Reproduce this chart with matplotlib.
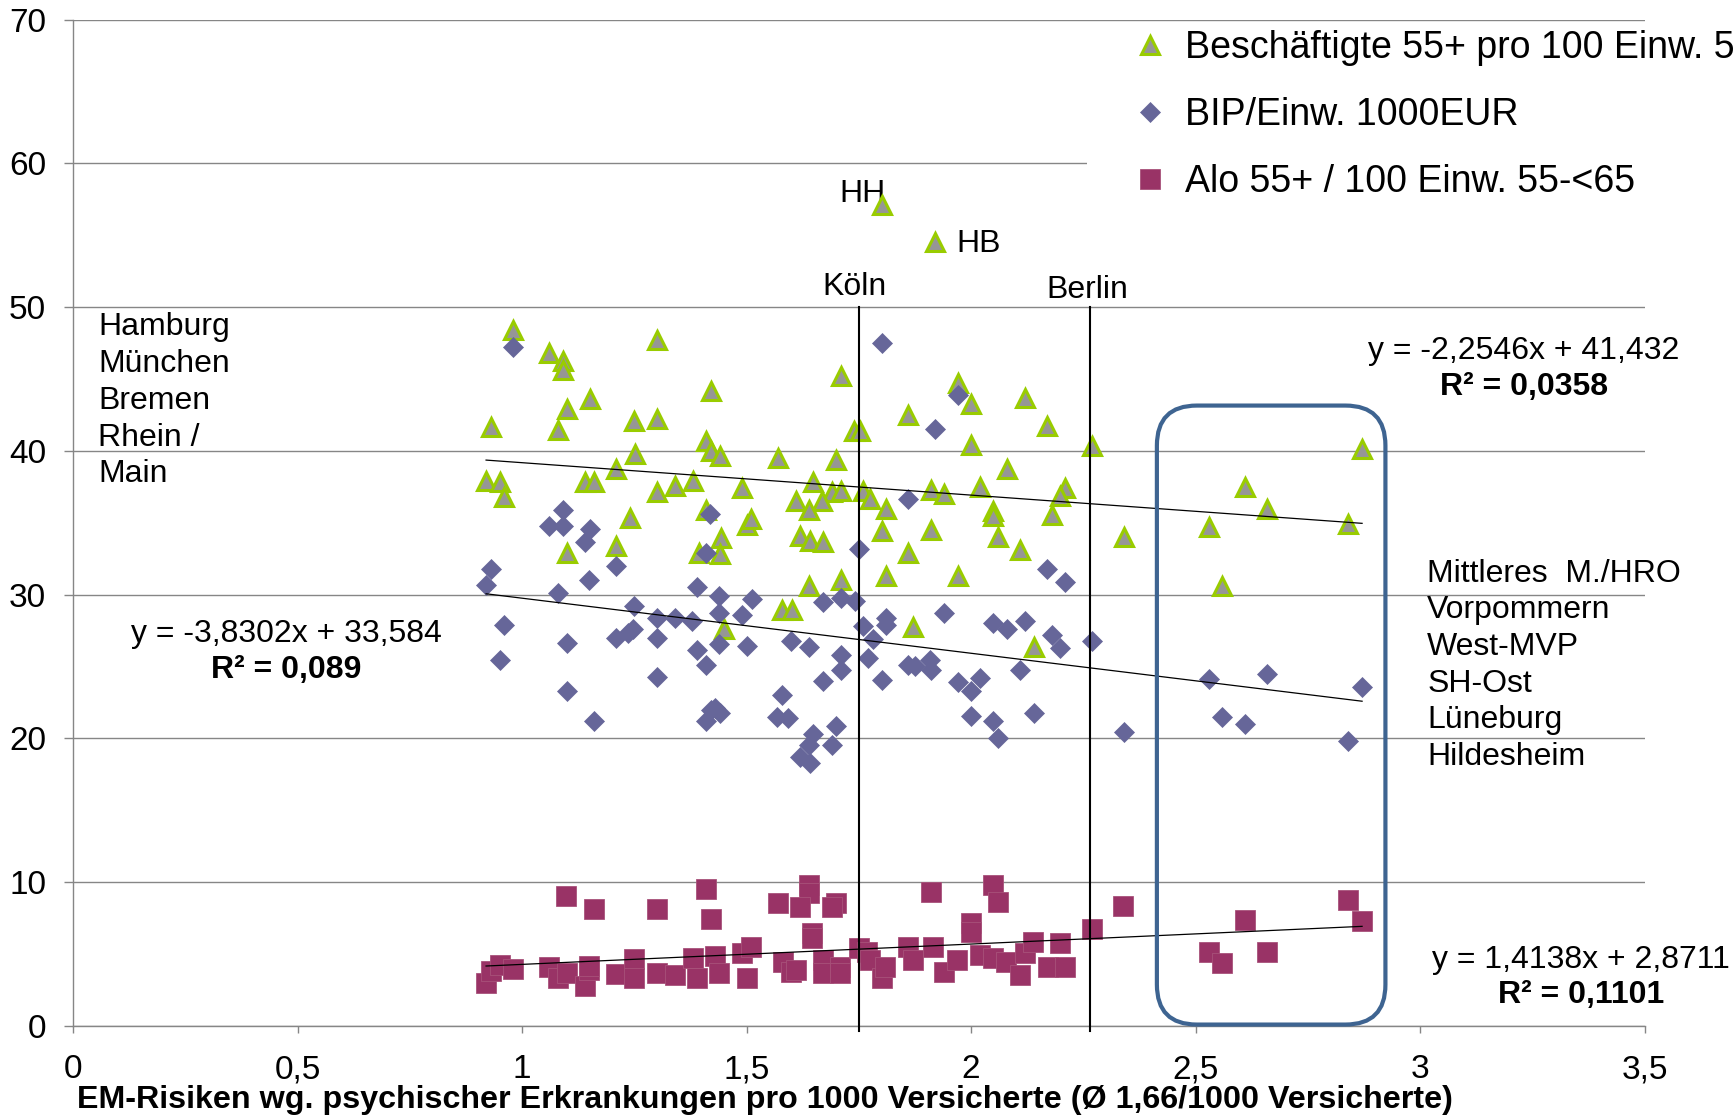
import numpy as np
import matplotlib.pyplot as plt
from matplotlib.patches import FancyBboxPatch, Rectangle
from matplotlib.lines import Line2D
from matplotlib import font_manager

plt.rcParams['font.family'] = ['Liberation Sans', 'DejaVu Sans']

# Beschäftigte 55+ pro 100 Einw. 55-<65 (triangles)
besch_x = [0.981, 1.060, 1.091, 1.091, 1.301, 1.420, 1.151, 1.100, 0.930, 1.081,
           1.250, 1.301, 1.410, 1.420, 1.440, 1.251, 1.570, 1.210, 0.920, 0.951,
           0.961, 1.140, 1.160, 1.301, 1.340, 1.380, 1.491, 1.241, 1.409, 1.500,
           1.511, 1.210, 1.100, 1.395, 1.443, 1.440, 1.451, 1.580, 1.602,
           1.710, 1.970, 1.999, 2.120, 1.860, 2.170, 1.739, 1.753, 1.999, 2.269,
           1.699, 2.080, 1.649, 1.690, 1.710, 1.760, 1.610, 1.669, 1.775, 1.640,
           1.811, 1.910, 1.940, 2.020, 2.050, 2.050, 2.209, 2.199, 2.180, 1.801,
           1.910, 2.061, 1.619, 1.641, 1.671, 1.860, 2.109, 1.811, 1.970, 1.640,
           1.710, 1.870, 2.140,
           1.801, 1.920,
           2.340, 2.529, 2.560, 2.610, 2.659, 2.840, 2.871]
besch_y = [48.39, 46.81, 46.23, 45.65, 47.69, 44.14, 43.61, 42.94, 41.66, 41.43,
           42.08, 42.22, 40.71, 39.97, 39.67, 39.81, 39.48, 38.74, 37.90, 37.81,
           36.79, 37.81, 37.86, 37.11, 37.53, 37.88, 37.42, 35.33, 35.91, 34.86,
           35.26, 33.36, 32.89, 32.90, 33.95, 32.80, 27.60, 28.90, 28.95,
           45.19, 44.72, 43.28, 43.68, 42.52, 41.71, 41.36, 41.40, 40.43, 40.31,
           39.39, 38.74, 37.81, 37.11, 37.18, 37.18, 36.49, 36.49, 36.65, 35.91,
           35.96, 37.30, 37.02, 37.49, 35.79, 35.44, 37.42, 36.84, 35.56, 34.40,
           34.52, 34.00, 34.05, 33.70, 33.63, 32.90, 33.12, 31.32, 31.32, 30.57,
           30.99, 27.74, 26.35,
           57.13, 54.51,
           33.99, 34.67, 30.57, 37.50, 35.94, 34.89, 40.10]

# BIP/Einw. 1000EUR (diamonds)
bip_x = [0.981, 1.091, 1.060, 1.091, 1.151, 1.140, 1.419, 1.410,
         0.930, 0.920, 1.210, 1.150, 1.080, 1.390, 1.439, 1.512, 1.250, 0.961,
         1.300, 1.340, 1.379, 1.439, 1.491, 1.247, 1.237, 1.100, 1.209, 1.300,
         1.390, 1.439, 1.500, 1.410, 0.951, 1.300, 1.100, 1.420, 1.430, 1.440,
         1.410, 1.160, 1.580, 1.568, 1.592, 1.600,
         1.751, 2.170, 2.209, 1.671, 1.710, 1.742, 1.940, 1.811, 1.811, 1.760,
         2.050, 2.080, 2.120, 2.180, 2.198, 2.269, 1.781, 1.640, 1.710, 1.771,
         1.710, 1.860, 1.875, 1.909, 1.910, 2.109, 1.671, 1.801, 1.970, 2.020,
         1.999, 1.699, 1.649, 1.640, 1.690, 1.619, 1.641, 1.999, 2.050, 2.061,
         2.140,
         1.801, 1.970, 1.920, 1.860,
         2.340, 2.529, 2.560, 2.610, 2.659, 2.840, 2.871]
bip_y = [47.23, 35.86, 34.79, 34.79, 34.56, 33.63, 35.61, 32.90,
         31.78, 30.69, 32.01, 30.99, 30.11, 30.50, 29.92, 29.69, 29.23, 27.91,
         28.37, 28.37, 28.18, 28.72, 28.60, 27.60, 27.30, 26.67, 26.98, 26.98,
         26.12, 26.58, 26.44, 25.12, 25.47, 24.27, 23.27, 22.00, 22.10, 21.80,
         21.18, 21.18, 23.05, 21.50, 21.40, 26.75,
         33.17, 31.78, 30.90, 29.48, 29.76, 29.58, 28.72, 28.37, 27.90, 27.84,
         28.02, 27.60, 28.20, 27.21, 26.28, 26.75, 26.91, 26.35, 25.82, 25.59,
         24.73, 25.12, 25.05, 25.42, 24.73, 24.73, 23.96, 24.08, 23.89, 24.19,
         23.27, 20.88, 20.32, 19.55, 19.55, 18.70, 18.32, 21.53, 21.18, 20.02,
         21.80,
         47.50, 43.91, 41.52, 36.67,
         20.47, 24.15, 21.47, 20.97, 24.51, 19.79, 23.60]

# Alo 55+ / 100 Einw. 55-<65 (squares)
alo_x = [1.099, 1.160, 1.300, 1.410, 1.420, 1.570,
         0.920, 0.930, 0.951, 0.981, 1.060, 1.081, 1.100, 1.140, 1.150, 1.150,
         1.210, 1.250, 1.250, 1.300, 1.340, 1.380, 1.389, 1.430, 1.439, 1.489,
         1.511, 1.500, 1.582, 1.600,
         1.640, 1.640, 1.619, 1.699, 1.690, 1.645, 1.645, 1.910, 2.050, 2.061,
         2.000, 2.000, 2.339, 2.269,
         1.610, 1.671, 1.671, 1.708, 1.708, 1.751, 1.768, 1.775, 1.801, 1.808,
         1.860, 1.870, 1.915, 1.940, 1.968, 2.020, 2.050, 2.079, 2.109, 2.120,
         2.139, 2.172, 2.198, 2.209,
         2.529, 2.560, 2.610, 2.659, 2.840, 2.871]
alo_y = [9.07, 8.16, 8.16, 9.53, 7.42, 8.58,
         3.01, 3.85, 4.24, 3.94, 4.08, 3.32, 3.67, 2.78, 3.90, 4.20,
         3.62, 4.64, 3.32, 3.71, 3.55, 4.71, 3.32, 4.87, 3.67, 5.06,
         5.52, 3.32, 4.47, 3.74,
         9.81, 9.23, 8.30, 8.58, 8.30, 6.45, 6.10, 9.35, 9.81, 8.65,
         7.15, 6.56, 8.35, 6.73,
         3.90, 4.59, 3.67, 4.13, 3.67, 5.41, 5.17, 4.59, 3.32, 4.13,
         5.52, 4.59, 5.52, 3.78, 4.59, 4.94, 4.71, 4.47, 3.55, 5.06,
         5.87, 4.13, 5.76, 4.13,
         5.16, 4.38, 7.36, 5.16, 8.73, 7.27]

# Excel trendline results (slope, intercept, R²)
fit_besch = (-2.2546, 41.432, "0,0358")
fit_bip = (-3.8302, 33.584, "0,089")
fit_alo = (1.4138, 2.8711, "0,1101")

x_ticks = [0, 0.5, 1, 1.5, 2, 2.5, 3, 3.5]
x_ticklabels = ["0", "0,5", "1", "1,5", "2", "2,5", "3", "3,5"]
y_ticks = [0, 10, 20, 30, 40, 50, 60, 70]

left_regions = ["Hamburg", "München", "Bremen", "Rhein /", "Main"]
right_regions = ["Mittleres  M./HRO", "Vorpommern", "West-MVP", "SH-Ost",
                 "Lüneburg", "Hildesheim"]
city_lines = {"Köln": 1.75, "Berlin": 2.266}

GRID = "#868686"
FS = 23
DY = -0.2  # small downward nudge so glyphs sit like the reference

fig = plt.figure(figsize=(17.34, 11.15), dpi=100)
ax = fig.add_axes([73 / 1734, 1 - 1026 / 1115, 1571.5 / 1734, 1006.5 / 1115])
ax.set_xlim(0, 3.5)
ax.set_ylim(0, 70)
ax.set_axisbelow(True)
ax.grid(axis="y", color=GRID, lw=1.0)
for side in ("top", "right"):
    ax.spines[side].set_visible(False)
for side in ("left", "bottom"):
    ax.spines[side].set_color(GRID)
    ax.spines[side].set_linewidth(1.0)
ax.set_xticks(x_ticks)
ax.set_xticklabels(x_ticklabels)
ax.set_yticks(y_ticks)
ax.tick_params(axis="x", length=5, width=1, color=GRID, pad=15.5, labelsize=24)
ax.tick_params(axis="y", length=6.5, width=1, color=GRID, pad=12.8, labelsize=24)

tri_kw = dict(marker="^", ms=13, mfc="#969696", mec="#99CC00", mew=2.2, ls="none")
dia_kw = dict(marker="D", ms=10.5, mfc="#666699", mec="#666699", mew=0.5, ls="none")
sq_kw = dict(marker="s", ms=14, mfc="#993366", mec="#A8527A", mew=0.6, ls="none")

ax.plot(besch_x, besch_y, zorder=3, clip_on=False, **tri_kw)
ax.plot(bip_x, bip_y, zorder=3.1, clip_on=False, **dia_kw)
ax.plot(alo_x, alo_y, zorder=3.2, clip_on=False, **sq_kw)

# linear trendlines
for xs, fit in ((besch_x, fit_besch), (bip_x, fit_bip), (alo_x, fit_alo)):
    xx = np.array([min(xs), max(xs)])
    ax.plot(xx, fit[0] * xx + fit[1], color="black", lw=0.9, zorder=4)

# vertical reference lines
for name, xv in city_lines.items():
    ax.plot([xv, xv], [-0.35, 50], color="black", lw=1.5, zorder=4, clip_on=False)
ax.text(1.741, 51.57 + DY, "Köln", ha="center", va="center", fontsize=FS)
ax.text(2.260, 51.39 + DY, "Berlin", ha="center", va="center", fontsize=FS)
ax.text(1.758, 58.06 + DY, "HH", ha="center", va="center", fontsize=FS, zorder=2)
ax.text(1.968, 54.58 + DY, "HB", ha="left", va="center", fontsize=FS)

# region lists
for i, s in enumerate(left_regions):
    ax.text(0.0566, 48.78 + DY - i * 2.554, s, ha="left", va="center", fontsize=FS)
for i, s in enumerate(right_regions):
    ax.text(3.016, 31.66 + DY - i * 2.547, s, ha="left", va="center", fontsize=FS,
            clip_on=False)


def fmt(v):
    return f"{v:.4f}".rstrip("0").replace(".", ",")


def eq_label(x, y, fit):
    sign = "+" if fit[1] >= 0 else "-"
    ax.text(x, y + DY, f"y = {fmt(fit[0])}x {sign} {fmt(abs(fit[1]))}", ha="center",
            va="center", fontsize=FS, clip_on=False)
    ax.text(x, y + DY - 2.49, f"R² = {fit[2]}", ha="center", va="center",
            fontsize=FS, fontweight="bold", clip_on=False)


eq_label(0.4744, 27.45, fit_bip)
eq_label(3.232, 47.15, fit_besch)
eq_label(3.359, 4.82, fit_alo)

# highlighted regions box
x0, x1, y0, y1 = 2.414, 2.923, 0.10, 43.15
box = FancyBboxPatch((x0, y0), x1 - x0, y1 - y0,
                     boxstyle="round,pad=0,rounding_size=0.089",
                     mutation_aspect=449 / 14.37, fill=False, ec="#3E6491",
                     lw=3.0, zorder=5, clip_on=False)
ax.add_patch(box)

# legend background covering grid
ax.add_patch(Rectangle((1087 / 1734, 1 - 255 / 1115), 1, 230 / 1115,
                       transform=fig.transFigure, fc="white", ec="none",
                       zorder=1, clip_on=False))
handles = [Line2D([], [], **tri_kw), Line2D([], [], **dia_kw), Line2D([], [], **sq_kw)]
labels = ["Beschäftigte 55+ pro 100 Einw. 55-<65", "BIP/Einw. 1000EUR",
          "Alo 55+ / 100 Einw. 55-<65"]
fig.legend(handles, labels, loc="upper left",
           bbox_to_anchor=(1131.0 / 1734, 1 - 30.5 / 1115), frameon=False,
           fontsize=27, borderpad=0, borderaxespad=0, handlelength=1.0,
           handletextpad=0.45, labelspacing=0.82)

# axis title, condensed bold
names = {f.name for f in font_manager.fontManager.ttflist}
fam = "Liberation Sans Narrow" if "Liberation Sans Narrow" in names else "Liberation Sans"
xt = fig.text(77 / 1734, 1 - 1100 / 1115,
              "EM-Risiken wg. psychischer Erkrankungen pro 1000 Versicherte "
              "(Ø 1,66/1000 Versicherte)",
              ha="left", va="center", fontsize=22, fontweight="bold", family=fam)
fig.canvas.draw()
w = xt.get_window_extent().width
xt.set_fontsize(22 * 1372 / w)

fig.savefig("out.png", dpi=100)
